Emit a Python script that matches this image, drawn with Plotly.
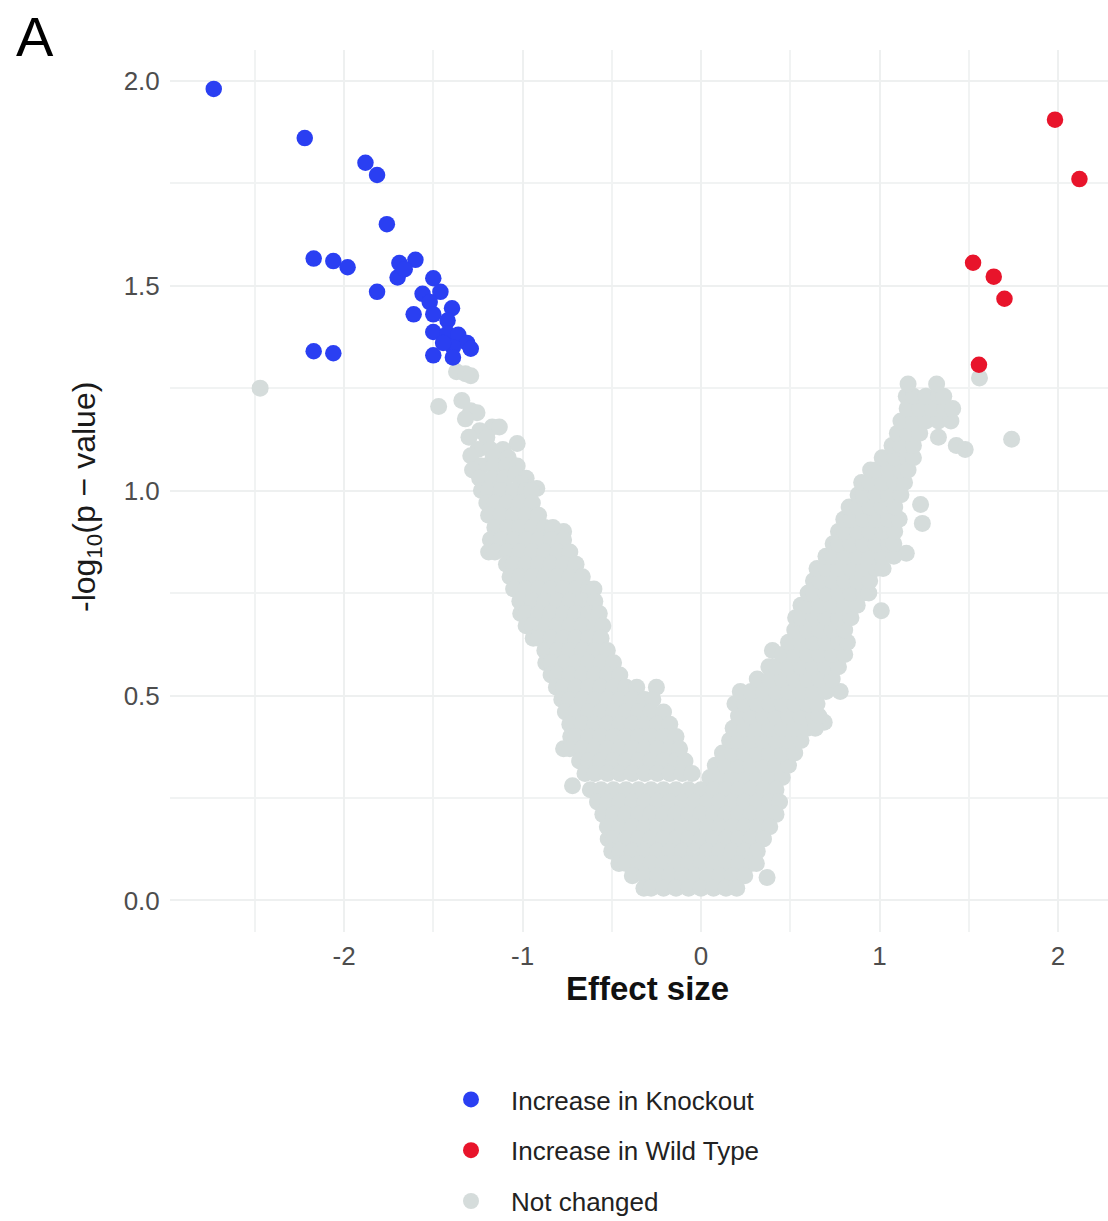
import plotly.graph_objects as go

# ---------------- data ----------------
# Increase in Knockout (blue)
ko_x = [-2.73, -2.22, -1.88, -1.815, -1.76, -2.17, -2.06, -1.98, -1.815, -2.17, -2.06,
        -1.69, -1.60, -1.70, -1.66, -1.50, -1.56, -1.46, -1.61, -1.52, -1.395, -1.50,
        -1.42, -1.50, -1.42, -1.36, -1.31, -1.39, -1.29, -1.50, -1.39, -1.445]
ko_y = [1.98, 1.86, 1.80, 1.77, 1.65, 1.566, 1.56, 1.545, 1.485, 1.34, 1.335,
        1.555, 1.563, 1.52, 1.54, 1.518, 1.48, 1.485, 1.43, 1.46, 1.445, 1.43,
        1.415, 1.387, 1.383, 1.38, 1.36, 1.35, 1.346, 1.33, 1.325, 1.36]

# Increase in Wild Type (red)
wt_x = [1.983, 2.12, 1.524, 1.64, 1.70, 1.557]
wt_y = [1.905, 1.76, 1.556, 1.522, 1.468, 1.307]

# Not changed (grey) - scattered / outlying points
nc_out_x = [-2.47, -1.37, -1.32, -1.29, -1.47, -1.34, -1.29, -1.255, -1.32, -1.17, -1.13,
            -1.24, -1.30, -1.20, -1.03, -1.25, -1.18, -1.11, -1.29, -1.165, -1.08,
            -1.23, -1.16, -1.09, -1.03, -1.28, -1.24, -1.17, -1.10, -1.04, -0.98,
            -1.01, -0.92, -0.77, -0.25, -0.72, 0.78, 0.40, 1.01, 1.15, 1.24, 1.23,
            0.69, 0.37, 1.56, 1.74, 1.43, 1.48, 1.33]
nc_out_y = [1.25, 1.29, 1.285, 1.28, 1.205, 1.22, 1.195, 1.19, 1.175, 1.155, 1.155,
            1.146, 1.13, 1.13, 1.115, 1.10, 1.10, 1.10, 1.085, 1.08, 1.08,
            1.06, 1.06, 1.06, 1.06, 1.05, 1.03, 1.03, 1.03, 1.04, 1.03,
            1.017, 1.005, 0.90, 0.52, 0.28, 0.51, 0.61, 0.707, 0.847, 0.92, 0.966,
            0.435, 0.056, 1.275, 1.125, 1.11, 1.10, 1.13]

# Not changed - left arm of the V (x positions per level)
left_levels = [1.00, 0.97, 0.94, 0.91, 0.88, 0.85, 0.82, 0.79, 0.76, 0.73, 0.70, 0.67,
               0.64, 0.61, 0.58, 0.55, 0.52, 0.49, 0.46, 0.43, 0.40, 0.37, 0.34, 0.31]
left_x = [
    [-1.23, -1.19, -1.12, -1.05, -0.98, -0.95],
    [-1.20, -1.155, -1.085, -1.015, -0.945],
    [-1.19, -1.12, -1.05, -0.98, -0.91],
    [-1.155, -1.085, -1.015, -0.945, -0.875, -0.83],
    [-1.18, -1.12, -1.05, -0.98, -0.91, -0.84, -0.77],
    [-1.19, -1.155, -1.085, -1.015, -0.945, -0.875, -0.805, -0.735],
    [-1.09, -1.05, -0.98, -0.91, -0.84, -0.77, -0.70],
    [-1.07, -1.015, -0.945, -0.875, -0.805, -0.735, -0.665],
    [-1.05, -0.98, -0.91, -0.84, -0.77, -0.70, -0.63, -0.60],
    [-1.015, -0.945, -0.875, -0.805, -0.735, -0.665, -0.595],
    [-1.01, -0.98, -0.91, -0.84, -0.77, -0.70, -0.63, -0.57],
    [-0.98, -0.945, -0.875, -0.805, -0.735, -0.665, -0.595, -0.55],
    [-0.94, -0.91, -0.84, -0.77, -0.70, -0.63, -0.56],
    [-0.875, -0.805, -0.735, -0.665, -0.595, -0.525],
    [-0.87, -0.84, -0.77, -0.70, -0.63, -0.56, -0.49],
    [-0.84, -0.805, -0.735, -0.665, -0.595, -0.525, -0.455],
    [-0.81, -0.77, -0.70, -0.63, -0.56, -0.49, -0.42, -0.36],
    [-0.78, -0.735, -0.665, -0.595, -0.525, -0.455, -0.385, -0.315, -0.27],
    [-0.76, -0.70, -0.63, -0.56, -0.49, -0.42, -0.35, -0.28, -0.21],
    [-0.735, -0.665, -0.595, -0.525, -0.455, -0.385, -0.315, -0.245, -0.175],
    [-0.73, -0.70, -0.63, -0.56, -0.49, -0.42, -0.35, -0.28, -0.21, -0.14],
    [-0.77, -0.735, -0.665, -0.595, -0.525, -0.455, -0.385, -0.315, -0.245, -0.175, -0.12],
    [-0.68, -0.63, -0.56, -0.49, -0.42, -0.35, -0.28, -0.21, -0.14, -0.09],
    [-0.65, -0.595, -0.525, -0.455, -0.385, -0.315, -0.245, -0.175, -0.105, -0.05],
]

# Not changed - right arm of the V
right_levels = [0.30, 0.33, 0.36, 0.39, 0.42, 0.45, 0.48, 0.51, 0.54, 0.57, 0.60, 0.63,
                0.66, 0.69, 0.72, 0.75, 0.78, 0.81, 0.84, 0.87, 0.90, 0.93, 0.96, 0.99,
                1.02, 1.05, 1.08, 1.11, 1.14, 1.17, 1.20, 1.23, 1.26]
right_x = [
    [0.05, 0.105, 0.175, 0.245, 0.315, 0.385, 0.455],
    [0.08, 0.14, 0.21, 0.28, 0.35, 0.42, 0.49],
    [0.12, 0.175, 0.245, 0.315, 0.385, 0.455, 0.525],
    [0.16, 0.21, 0.28, 0.35, 0.42, 0.49, 0.56],
    [0.18, 0.245, 0.315, 0.385, 0.455, 0.525, 0.595, 0.64],
    [0.21, 0.28, 0.35, 0.42, 0.49, 0.56, 0.63, 0.66],
    [0.19, 0.245, 0.315, 0.385, 0.455, 0.525, 0.595, 0.65],
    [0.22, 0.28, 0.35, 0.42, 0.49, 0.56, 0.63, 0.70],
    [0.315, 0.385, 0.455, 0.525, 0.595, 0.665, 0.735],
    [0.38, 0.42, 0.49, 0.56, 0.63, 0.70, 0.77],
    [0.455, 0.525, 0.595, 0.665, 0.735, 0.805],
    [0.49, 0.56, 0.63, 0.70, 0.77, 0.82],
    [0.525, 0.595, 0.665, 0.735, 0.805],
    [0.53, 0.56, 0.63, 0.70, 0.77, 0.84],
    [0.56, 0.595, 0.665, 0.735, 0.805, 0.875],
    [0.60, 0.63, 0.70, 0.77, 0.84, 0.91, 0.94],
    [0.63, 0.665, 0.735, 0.805, 0.875, 0.945],
    [0.65, 0.70, 0.77, 0.84, 0.91, 0.98, 1.02],
    [0.70, 0.735, 0.805, 0.875, 0.945, 1.015, 1.08],
    [0.74, 0.77, 0.84, 0.91, 0.98, 1.05, 1.08],
    [0.77, 0.805, 0.875, 0.945, 1.015, 1.085],
    [0.80, 0.84, 0.91, 0.98, 1.05, 1.11],
    [0.83, 0.875, 0.945, 1.015, 1.085],
    [0.88, 0.91, 0.98, 1.05, 1.12],
    [0.90, 0.945, 1.015, 1.085, 1.14],
    [0.95, 0.98, 1.05, 1.12, 1.16],
    [1.015, 1.085, 1.155, 1.19],
    [1.07, 1.12, 1.19],
    [1.10, 1.155, 1.225],
    [1.12, 1.19, 1.26, 1.33, 1.40],
    [1.155, 1.225, 1.295, 1.365, 1.41],
    [1.15, 1.19, 1.26, 1.33, 1.36],
    [1.16, 1.32],
]

# Not changed - bottom of the V
bottom_levels = [0.27, 0.24, 0.21, 0.18, 0.15, 0.12, 0.09, 0.06, 0.03]
bottom_x = [
    [-0.62, -0.56, -0.49, -0.42, -0.35, -0.28, -0.21, -0.14, -0.07, 0.00, 0.07, 0.14, 0.21, 0.28, 0.35, 0.42],
    [-0.58, -0.525, -0.455, -0.385, -0.315, -0.245, -0.175, -0.105, -0.035, 0.035, 0.105, 0.175, 0.245, 0.315, 0.385, 0.44],
    [-0.55, -0.49, -0.42, -0.35, -0.28, -0.21, -0.14, -0.07, 0.00, 0.07, 0.14, 0.21, 0.28, 0.35, 0.42],
    [-0.525, -0.455, -0.385, -0.315, -0.245, -0.175, -0.105, -0.035, 0.035, 0.105, 0.175, 0.245, 0.315, 0.385],
    [-0.52, -0.49, -0.42, -0.35, -0.28, -0.21, -0.14, -0.07, 0.00, 0.07, 0.14, 0.21, 0.28, 0.35],
    [-0.50, -0.455, -0.385, -0.315, -0.245, -0.175, -0.105, -0.035, 0.035, 0.105, 0.175, 0.245, 0.315],
    [-0.46, -0.42, -0.35, -0.28, -0.21, -0.14, -0.07, 0.00, 0.07, 0.14, 0.21, 0.28, 0.31],
    [-0.385, -0.315, -0.245, -0.175, -0.105, -0.035, 0.035, 0.105, 0.175, 0.245],
    [-0.32, -0.28, -0.21, -0.14, -0.07, 0.00, 0.07, 0.14, 0.20],
]

x_ticks = [-2, -1, 0, 1, 2]
y_ticks = [0.0, 0.5, 1.0, 1.5, 2.0]
y_tick_text = ["0.0", "0.5", "1.0", "1.5", "2.0"]

# ---------------- assemble grey cloud ----------------
nc_x, nc_y = list(nc_out_x), list(nc_out_y)
for levels, rows in ((left_levels, left_x), (right_levels, right_x), (bottom_levels, bottom_x)):
    for lv, xs in zip(levels, rows):
        nc_x.extend(xs)
        nc_y.extend([lv] * len(xs))

GREY = "#d5dcdb"
BLUE = "#2a3ff2"
RED = "#e8142b"
FONT = "Liberation Sans, Arial, sans-serif"

fig = go.Figure()
fig.add_trace(go.Scatter(x=nc_x, y=nc_y, mode="markers", name="Not changed",
                         legendgroup="nc", legendrank=3,
                         marker=dict(color=GREY, size=17, line=dict(width=0))))
fig.add_trace(go.Scatter(x=ko_x, y=ko_y, mode="markers", name="Increase in Knockout",
                         legendgroup="ko", legendrank=1,
                         marker=dict(color=BLUE, size=16.5, line=dict(width=0))))
fig.add_trace(go.Scatter(x=wt_x, y=wt_y, mode="markers", name="Increase in Wild Type",
                         legendgroup="wt", legendrank=2,
                         marker=dict(color=RED, size=16.5, line=dict(width=0))))

W, H = 1108, 1221
L, R, T, B = 170, 0, 50, 289
PW, PH = W - L - R, H - T - B


def px_x(px):
    return (px - L) / PW


def px_y(py):
    return (H - B - py) / PH


fig.update_layout(
    width=W, height=H,
    margin=dict(l=L, r=R, t=T, b=B, autoexpand=False),
    paper_bgcolor="white", plot_bgcolor="white",
    font=dict(family=FONT, size=26, color="#4d4d4d"),
    showlegend=True,
    legend=dict(x=px_x(431), xanchor="left",
                y=px_y(1076), yanchor="top",
                font=dict(size=26, color="#222222"),
                tracegroupgap=14, itemsizing="trace", itemwidth=70,
                bgcolor="rgba(0,0,0,0)"),
    xaxis=dict(range=[-2.975, 2.28], tickvals=x_ticks,
               ticktext=[str(v) for v in x_ticks],
               showgrid=True, gridcolor="#eef0f0", gridwidth=2,
               minor=dict(dtick=0.5, tick0=0.5, showgrid=True, gridcolor="#f1f3f3", gridwidth=1.5),
               zeroline=False, showline=False, automargin=False,
               ticks="outside", ticklen=1, tickcolor="rgba(0,0,0,0)",
               tickfont=dict(size=26, color="#4d4d4d")),
    yaxis=dict(range=[-0.077, 2.075], tickvals=y_ticks, ticktext=y_tick_text,
               showgrid=True, gridcolor="#eef0f0", gridwidth=2,
               minor=dict(dtick=0.25, tick0=0.25, showgrid=True, gridcolor="#f1f3f3", gridwidth=1.5),
               zeroline=False, showline=False, automargin=False,
               ticks="outside", ticklen=4, tickcolor="rgba(0,0,0,0)",
               tickfont=dict(size=26, color="#4d4d4d")),
    annotations=[
        dict(text="A", x=px_x(35), y=px_y(36), xref="paper", yref="paper", showarrow=False,
             xanchor="center", yanchor="middle", font=dict(size=56, color="black")),
        dict(text="<b>Effect size</b>", x=px_x(647), y=px_y(988),
             xref="paper", yref="paper", showarrow=False, xanchor="center", yanchor="middle",
             font=dict(size=33, color="#111111")),
        dict(text="-log<sub>10</sub>(p − value)", x=px_x(86), y=px_y(497),
             xref="paper", yref="paper", showarrow=False, xanchor="center", yanchor="middle",
             textangle=-90, font=dict(size=32, color="#1a1a1a")),
    ],
)

fig.write_html("out.html", config={"displayModeBar": False},
               post_script="document.body.style.margin='0';")
